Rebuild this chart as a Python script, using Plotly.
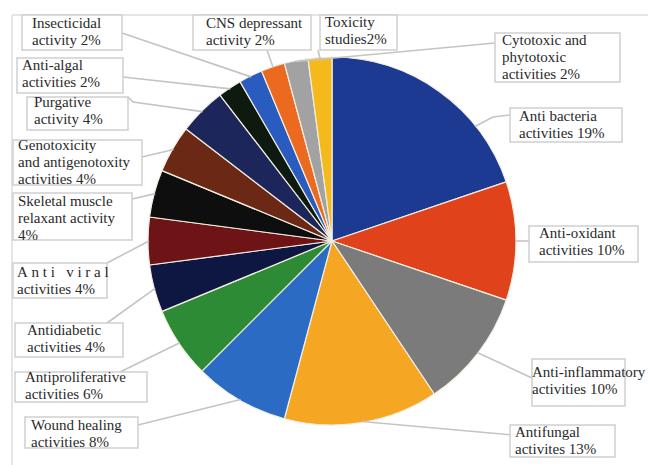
import math
import plotly.graph_objects as go

W, H = 648, 465

# ---------------- data ----------------
categories = [
    "Anti bacteria activities", "Anti-oxidant activities", "Anti-inflammatory activities",
    "Antifungal activites", "Wound healing activities", "Antiproliferative activities",
    "Antidiabetic activities", "Anti viral activities", "Skeletal muscle relaxant activity",
    "Genotoxicity and antigenotoxity activities", "Purgative activity", "Anti-algal activities",
    "Insecticidal activity", "CNS depressant activity", "Cytotoxic and phytotoxic activities",
    "Toxicity studies",
]
values = [19, 10, 10, 13, 8, 6, 4, 4, 4, 4, 4, 2, 2, 2, 2, 2]
label_lines = [
    ["Anti bacteria", "activities 19%"],
    ["Anti-oxidant", "activities 10%"],
    ["Anti-inflammatory", "activities 10%"],
    ["Antifungal", "activites 13%"],
    ["Wound healing", "activities 8%"],
    ["Antiproliferative", "activities 6%"],
    ["Antidiabetic", "activities 4%"],
    ["A\u00a0n\u00a0t\u00a0i\u00a0\u00a0\u00a0v\u00a0i\u00a0r\u00a0a\u00a0l", "activities 4%"],
    ["Skeletal muscle", "relaxant activity", "4%"],
    ["Genotoxicity", "and antigenotoxity", "activities 4%"],
    ["Purgative", "activity 4%"],
    ["Anti-algal", "activities 2%"],
    ["Insecticidal", "activity 2%"],
    ["CNS depressant", "activity 2%"],
    ["Cytotoxic and", "phytotoxic", "activities 2%"],
    ["Toxicity", "studies2%"],
]
colors = [
    "#1c3a91", "#e0421c", "#7b7b7b", "#f5a623", "#2b6bc4", "#2e8b35",
    "#0d1742", "#6e1417", "#0e0e0e", "#6b2915", "#1d265a", "#0e1a0f",
    "#2a5cc0", "#ec6a20", "#a2a2a2", "#f4b91d",
]

# ---------------- layout (pixel positions) ----------------
CX, CY, R = 332, 241, 184
# box (x0, y0, x1, y1), text (x, first baseline), leader start/kinks, position within slice
label_layout = [
    dict(box=(510, 108, 622, 142), text=(517, 121), pts=[(510, 115), (493, 117)], frac=0.72),
    dict(box=(529, 226, 638, 262), text=(537, 238), pts=[(529, 241)], frac=0.5),
    dict(box=(532, 359, 625, 406), text=(530, 377), pts=[(532, 378)], frac=0.5),
    dict(box=(510, 425, 615, 457), text=(513, 437), pts=[(513, 435)], frac=0.5),
    dict(box=(25, 417, 138, 448), text=(29, 430), pts=[(138, 425)], frac=0.5),
    dict(box=(15, 372, 147, 402), text=(23, 382), pts=[(120, 372)], frac=0.5),
    dict(box=(15, 323, 123, 357), text=(25, 335), pts=[(107, 323)], frac=0.5),
    dict(box=(13, 263, 107, 298), text=(15, 277), pts=[(107, 263)], frac=0.5),
    dict(box=(13, 193, 132, 240), text=(16, 206), pts=[(132, 199)], frac=0.5),
    dict(box=(13, 140, 142, 185), text=(16, 150), pts=[(142, 157)], frac=0.5),
    dict(box=(27, 97, 128, 130), text=(32, 107), pts=[(128, 97), (133, 102)], frac=0.5),
    dict(box=(17, 58, 123, 93), text=(20, 70), pts=[(123, 77)], frac=0.5),
    dict(box=(22, 15, 122, 50), text=(30, 28), pts=[(122, 33)], frac=0.5),
    dict(box=(193, 15, 311, 50), text=(204, 28), pts=[(267, 50)], frac=0.5),
    dict(box=(495, 33, 620, 82), text=(500, 45), pts=[(495, 43)], frac=0.5),
    dict(box=(320, 15, 397, 50), text=(323, 27), pts=[(318, 50)], frac=0.5),
]
LINE_H = 17
FONT = "Liberation Serif, Times New Roman, serif"
FS = 15


def px(x):
    return x / W


def py(y):
    return 1 - y / H


fig = go.Figure()
fig.add_trace(go.Pie(
    labels=categories,
    values=values,
    sort=False,
    direction="clockwise",
    rotation=0,
    marker=dict(colors=colors, line=dict(color="#f3eee2", width=1.2)),
    textinfo="none",
    hoverinfo="label+percent",
    showlegend=False,
    domain=dict(x=[px(CX - R), px(CX + R)], y=[py(CY + R), py(CY - R)]),
))

shapes = []
annotations = []

# frame
shapes.append(dict(type="line", xref="paper", yref="paper", x0=px(12), x1=px(12), y0=py(15), y1=0,
                   line=dict(color="#dcdcdc", width=1.5)))
shapes.append(dict(type="line", xref="paper", yref="paper", x0=px(12), x1=1, y0=py(15), y1=py(15),
                   line=dict(color="#dcdcdc", width=1.5)))

total = sum(values)
cum = 0.0
leaders = []
for v, lay in zip(values, label_layout):
    a0 = cum / total * 360
    a1 = (cum + v) / total * 360
    cum += v
    ang = math.radians(a0 + (a1 - a0) * lay["frac"])
    ex = CX + (R - 1) * math.sin(ang)
    ey = CY - (R - 1) * math.cos(ang)
    pts = lay["pts"] + [(ex, ey)]
    path = "M " + " L ".join(f"{px(x):.5f},{py(y):.5f}" for x, y in pts)
    leaders.append(dict(type="path", xref="paper", yref="paper", path=path,
                        line=dict(color="#c4c4c4", width=1.6)))

shapes.extend(leaders)

for lines, lay in zip(label_lines, label_layout):
    x0, y0, x1, y1 = lay["box"]
    shapes.append(dict(type="rect", xref="paper", yref="paper",
                       x0=px(x0), x1=px(x1), y0=py(y1), y1=py(y0),
                       fillcolor="white", line=dict(color="#cfcfcf", width=1.5)))
    tx, tb = lay["text"]
    for i, ln in enumerate(lines):
        base = tb + i * LINE_H
        annotations.append(dict(
            xref="paper", yref="paper", x=px(tx), y=py(base - 5),
            xanchor="left", yanchor="middle", text=ln, showarrow=False,
            font=dict(family=FONT, size=FS, color="#2a2a2a"),
        ))

fig.update_layout(
    width=W, height=H,
    margin=dict(l=0, r=0, t=0, b=0),
    paper_bgcolor="white",
    plot_bgcolor="white",
    shapes=shapes,
    annotations=annotations,
)

fig.write_html("out.html")
